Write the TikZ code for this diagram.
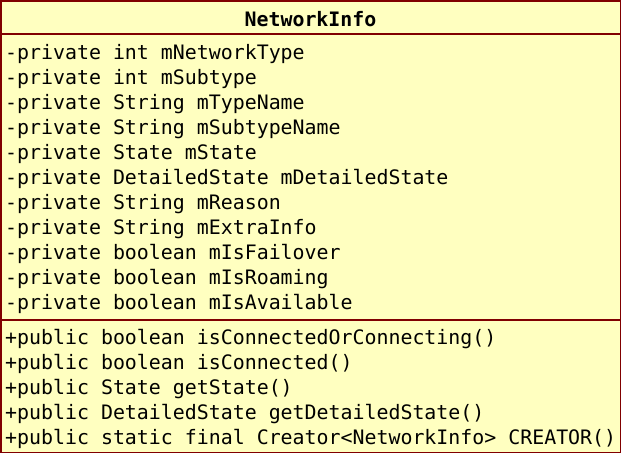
\documentclass[tikz,border=0pt]{standalone}
\usepackage{fontspec}
\setmonofont{DejaVu Sans Mono}
\definecolor{boxfill}{HTML}{FFFFC0}
\definecolor{boxline}{HTML}{800000}
\begin{document}
\begin{tikzpicture}[x=1pt,y=-1pt,
  row/.style={anchor=west,inner sep=0pt,font=\ttfamily\fontsize{19.9}{22}\selectfont},
  titletext/.style={inner sep=0pt,font=\ttfamily\bfseries\fontsize{19.9}{22}\selectfont}]
\useasboundingbox (0,0) rectangle (621,453);
\draw[boxline,fill=boxfill,line width=1.5pt] (0.75,0.75) rectangle (620.25,452.25);
\draw[boxline,line width=1.3pt] (0.75,34) -- (620.25,34);
\draw[boxline,line width=1.3pt] (0.75,320) -- (620.25,320);
\node[titletext] (title) at (310.5,19.5) {NetworkInfo};
\node[row] (a1) at (5,54) {-private int mNetworkType};
\node[row] (a2) at (5,79) {-private int mSubtype};
\node[row] (a3) at (5,104) {-private String mTypeName};
\node[row] (a4) at (5,129) {-private String mSubtypeName};
\node[row] (a5) at (5,154) {-private State mState};
\node[row] (a6) at (5,179) {-private DetailedState mDetailedState};
\node[row] (a7) at (5,204) {-private String mReason};
\node[row] (a8) at (5,229) {-private String mExtraInfo};
\node[row] (a9) at (5,254) {-private boolean mIsFailover};
\node[row] (a10) at (5,279) {-private boolean mIsRoaming};
\node[row] (a11) at (5,304) {-private boolean mIsAvailable};
\node[row] (m1) at (5,339) {+public boolean isConnectedOrConnecting()};
\node[row] (m2) at (5,364) {+public boolean isConnected()};
\node[row] (m3) at (5,389) {+public State getState()};
\node[row] (m4) at (5,414) {+public DetailedState getDetailedState()};
\node[row] (m5) at (5,439) {+public static final Creator<NetworkInfo> CREATOR()};
\end{tikzpicture}
\end{document}
